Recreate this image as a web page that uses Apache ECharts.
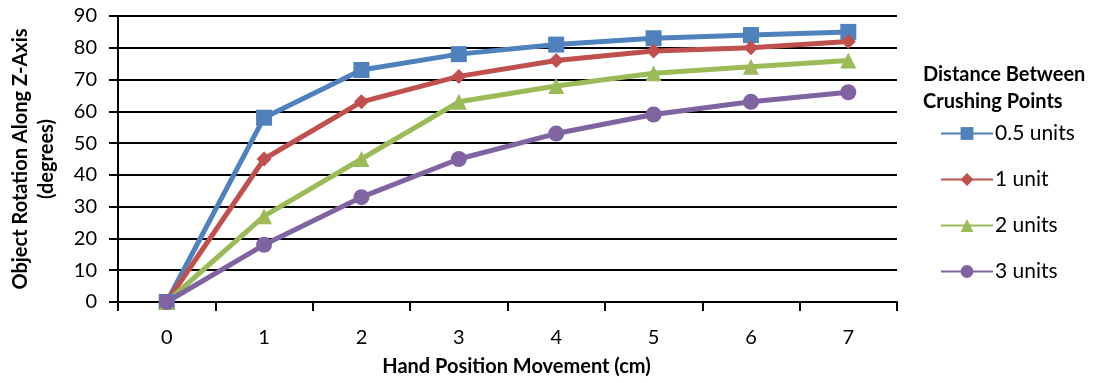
<!DOCTYPE html>
<html>
<head>
<meta charset="utf-8">
<script src="https://cdn.jsdelivr.net/npm/echarts@6/dist/echarts.min.js"></script>
<style>
  html, body { margin: 0; padding: 0; background: #fff; }
  #chart { width: 1095px; height: 383px; }
</style>
</head>
<body>
<div id="chart"></div>
<script>
// Hand movement (cm) along the x axis
const handPositions = ['0', '1', '2', '3', '4', '5', '6', '7'];

// Object rotation (degrees) for each crushing-point spacing
const rotationHalfUnit = [0, 58, 73, 78, 81, 83, 84, 85];
const rotationOneUnit = [0, 45, 63, 71, 76, 79, 80, 82];
const rotationTwoUnits = [0, 27, 45, 63, 68, 72, 74, 76];
const rotationThreeUnits = [0, 18, 33, 45, 53, 59, 63, 66];

const seriesNames = ['0.5 units', '1 unit', '2 units', '3 units'];

const FONT = 'Lato, "Open Sans", sans-serif';

const chart = echarts.init(document.getElementById('chart'));

function lineSeries(name, data, color, symbol, size) {
  return {
    name: name,
    type: 'line',
    data: data,
    symbol: symbol,
    symbolSize: size,
    showSymbol: true,
    lineStyle: { color: color, width: 5 },
    itemStyle: { color: color },
    z: 3
  };
}

chart.setOption({
  animation: false,
  backgroundColor: '#ffffff',
  textStyle: { fontFamily: FONT },
  grid: { left: 117, right: 198, top: 16, bottom: 81, containLabel: false },
  title: {
    text: 'Distance Between\nCrushing Points',
    left: 918,
    top: 56,
    textStyle: { fontFamily: FONT, fontSize: 20, fontWeight: 'bold', color: '#000', lineHeight: 27 }
  },
  legend: {
    orient: 'vertical',
    left: 935,
    top: 118,
    itemWidth: 52,
    itemHeight: 16,
    itemGap: 25,
    data: seriesNames,
    textStyle: { fontFamily: FONT, fontSize: 21, color: '#000', padding: [0, 0, 0, -3] }
  },
  xAxis: {
    type: 'category',
    data: handPositions,
    boundaryGap: true,
    name: 'Hand Position Movement (cm)',
    nameLocation: 'middle',
    nameGap: 55,
    nameTextStyle: { fontFamily: FONT, fontSize: 20, fontWeight: 'bold', color: '#000', padding: [0, 0, 0, 18] },
    axisLine: { lineStyle: { color: '#000', width: 2 } },
    axisTick: { show: true, length: 9, lineStyle: { color: '#000', width: 2 } },
    axisLabel: { fontFamily: FONT, fontSize: 20, color: '#000', margin: 26 },
    splitLine: { show: false }
  },
  yAxis: {
    type: 'value',
    min: 0,
    max: 90,
    interval: 10,
    name: 'Object Rotation Along Z-Axis\n(degrees)',
    nameLocation: 'middle',
    nameGap: 58,
    nameRotate: 90,
    nameTextStyle: { fontFamily: FONT, fontSize: 20, fontWeight: 'bold', color: '#000', lineHeight: 26 },
    axisLine: { show: true, lineStyle: { color: '#000', width: 2 } },
    axisTick: { show: true, length: 9, lineStyle: { color: '#000', width: 2 } },
    axisLabel: { fontFamily: FONT, fontSize: 20, color: '#000', margin: 21 },
    splitLine: { show: true, lineStyle: { color: '#000', width: 2 } }
  },
  series: [
    lineSeries(seriesNames[0], rotationHalfUnit, '#4F81BD', 'rect', 16),
    lineSeries(seriesNames[1], rotationOneUnit, '#C0504D', 'diamond', 15),
    lineSeries(seriesNames[2], rotationTwoUnits, '#9BBB59', 'triangle', 16),
    lineSeries(seriesNames[3], rotationThreeUnits, '#8064A2', 'circle', 16)
  ]
});
</script>
</body>
</html>
